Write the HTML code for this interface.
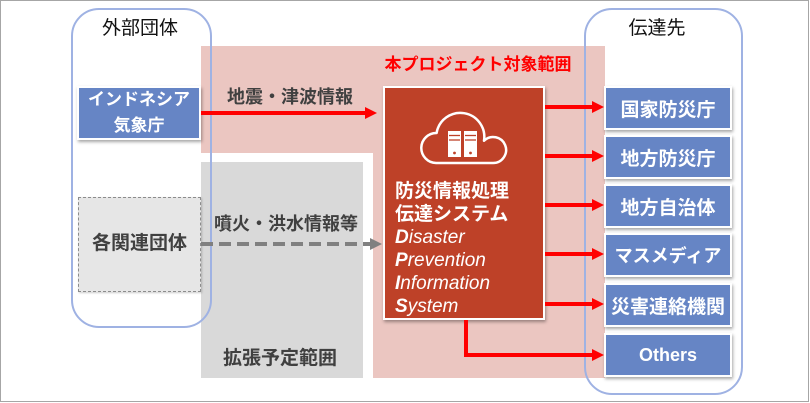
<!DOCTYPE html>
<html><head><meta charset="utf-8">
<style>
*{margin:0;padding:0;box-sizing:border-box}
html,body{width:810px;height:403px;background:#fff;overflow:hidden}
body{position:relative;font-family:"Liberation Sans","Noto Sans CJK JP",sans-serif}
.a{position:absolute}
.frame{left:0;top:0;width:809px;height:402px;border:1px solid #a6a6a6}
.pink{left:201px;top:46px;width:404px;height:332px;background:#ebc6c1}
.white{left:201px;top:153px;width:172px;height:225px;background:#fff}
.gray{left:201px;top:162px;width:162px;height:216px;background:#d9d9d9}
.rr{border:2px solid #9fb2e3;border-radius:28px}
.blue{background:#6685c5;border:2px solid #fff;box-shadow:1px 2px 3px rgba(0,0,0,.35);color:#fff;font-weight:700;display:flex;align-items:center;justify-content:center;text-align:center}
.lbl{color:#404040;font-weight:700;white-space:nowrap;text-align:center}
.main{left:383px;top:86px;width:162px;height:234px;background:#be4128;border:2px solid #fff;box-shadow:1px 2px 3px rgba(0,0,0,.35)}
.mt{left:395px;top:180px;color:#fff;font-size:19px;line-height:23px;white-space:nowrap}
.mt .j{font-weight:700}
.mt .e{font-style:italic}
.mt .e b{font-weight:700}
</style></head><body>
<div class="a frame"></div>
<div class="a pink"></div>
<div class="a white"></div>
<div class="a gray"></div>

<div class="a rr" style="left:71px;top:8px;width:141px;height:320px"></div>
<div class="a rr" style="left:584px;top:8px;width:159px;height:387px"></div>

<div class="a" style="left:80px;top:16px;width:120px;text-align:center;font-size:19px;line-height:26px;color:#111">外部団体</div>
<div class="a" style="left:597px;top:16px;width:120px;text-align:center;font-size:19px;line-height:26px;color:#111">伝達先</div>

<div class="a" style="left:373px;top:53px;width:210px;text-align:center;font-size:17px;line-height:24px;color:#ff0000;font-weight:700;white-space:nowrap">本プロジェクト対象範囲</div>

<div class="a lbl" style="left:215px;top:84px;width:150px;font-size:18px;line-height:26px">地震・津波情報</div>
<div class="a lbl" style="left:206px;top:211px;width:160px;font-size:18px;line-height:26px">噴火・洪水情報等</div>
<div class="a lbl" style="left:210px;top:346px;width:140px;font-size:19px;line-height:26px">拡張予定範囲</div>

<div class="a blue" style="left:77px;top:86px;width:124px;height:54px;font-size:17px;line-height:26px">インドネシア<br>気象庁</div>

<div class="a" style="left:78px;top:197px;width:123px;height:95px;background:#e6e6e6;border:1px dashed #8c8c8c;box-shadow:1px 1px 2px rgba(0,0,0,.2)"></div>
<div class="a lbl" style="left:78px;top:231px;width:123px;font-size:19px;line-height:26px">各関連団体</div>

<div class="a main"></div>
<div class="a mt">
<div class="j">防災情報処理</div>
<div class="j">伝達システム</div>
<div class="e"><b>D</b>isaster</div>
<div class="e"><b>P</b>revention</div>
<div class="e"><b>I</b>nformation</div>
<div class="e"><b>S</b>ystem</div>
</div>

<div class="a blue" style="left:604px;top:86px;width:128px;height:44px;font-size:19px">国家防災庁</div>
<div class="a blue" style="left:604px;top:135px;width:128px;height:44px;font-size:19px">地方防災庁</div>
<div class="a blue" style="left:604px;top:184px;width:128px;height:44px;font-size:19px">地方自治体</div>
<div class="a blue" style="left:604px;top:233px;width:128px;height:44px;font-size:18px">マスメディア</div>
<div class="a blue" style="left:604px;top:283px;width:128px;height:44px;font-size:19px;white-space:nowrap">災害連絡機関</div>
<div class="a blue" style="left:604px;top:333px;width:128px;height:44px;font-size:18px">Others</div>

<svg class="a" style="left:0;top:0" width="810" height="403" viewBox="0 0 810 403">
  <!-- cloud icon -->
  <path d="M436,163 H493 A13,13 0 1 0 484,140.7 A24,24 0 0 0 436.6,133 A15,15 0 1 0 436,163 Z" fill="none" stroke="#fff" stroke-width="2.5" stroke-linejoin="round"/>
  <rect x="448" y="131" width="13" height="26" fill="#fff"/>
  <rect x="464" y="131" width="13" height="26" fill="#fff"/>
  <line x1="449" y1="135.5" x2="460" y2="135.5" stroke="#be4128" stroke-width="1.3"/>
  <line x1="449" y1="140" x2="460" y2="140" stroke="#be4128" stroke-width="1.3"/>
  <line x1="465" y1="135.5" x2="476" y2="135.5" stroke="#be4128" stroke-width="1.3"/>
  <line x1="465" y1="140" x2="476" y2="140" stroke="#be4128" stroke-width="1.3"/>
  <circle cx="454.5" cy="153" r="1.4" fill="#be4128"/>
  <circle cx="470.5" cy="153" r="1.4" fill="#be4128"/>

  <!-- top red arrow -->
  <line x1="201" y1="113" x2="366" y2="113" stroke="#ff0000" stroke-width="4"/>
  <polygon points="365,107 377,113 365,119" fill="#ff0000"/>

  <!-- dashed gray arrow -->
  <line x1="201" y1="244" x2="370" y2="244" stroke="#808080" stroke-width="4" stroke-dasharray="12,6"/>
  <polygon points="370,238 382,244 370,250" fill="#808080"/>

  <!-- right arrows -->
  <g stroke="#ff0000" stroke-width="4" fill="none">
    <line x1="545" y1="107" x2="593" y2="107"/>
    <line x1="545" y1="156" x2="593" y2="156"/>
    <line x1="545" y1="205" x2="593" y2="205"/>
    <line x1="545" y1="254" x2="593" y2="254"/>
    <line x1="545" y1="304" x2="593" y2="304"/>
    <polyline points="466,320 466,355 593,355"/>
  </g>
  <g fill="#ff0000">
    <polygon points="592,101 604,107 592,113"/>
    <polygon points="592,150 604,156 592,162"/>
    <polygon points="592,199 604,205 592,211"/>
    <polygon points="592,248 604,254 592,260"/>
    <polygon points="592,298 604,304 592,310"/>
    <polygon points="592,349 604,355 592,361"/>
  </g>
</svg>
</body></html>
